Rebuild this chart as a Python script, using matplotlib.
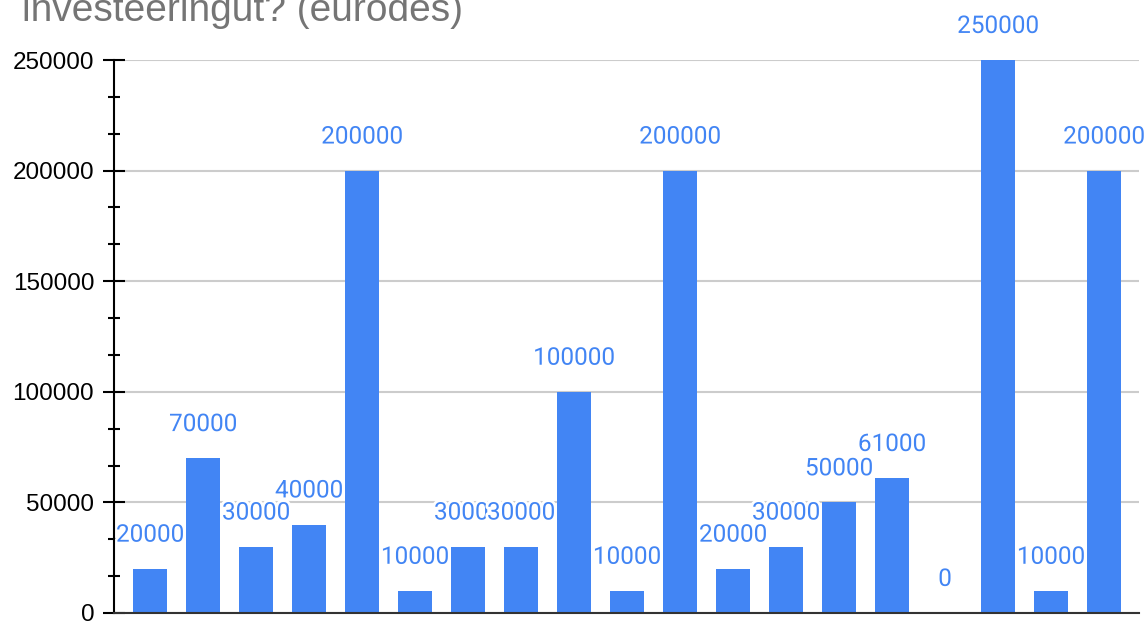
import matplotlib.pyplot as plt
import matplotlib.patheffects as pe
from matplotlib.ticker import MultipleLocator

# andmed
values = [20000, 70000, 30000, 40000, 200000, 10000, 30000, 30000, 100000, 10000,
          200000, 20000, 30000, 50000, 61000, 0, 250000, 10000, 200000]
positions = list(range(len(values)))
title_line = 'investeeringut? (eurodes)'

bar_color = '#4285F4'

fig = plt.figure(figsize=(11.46, 6.22), dpi=100)
ax = fig.add_axes([0.0995, 0.0145, 0.8944, 0.889])

ax.bar(positions, values, width=0.63, color=bar_color, zorder=2)

# väärtuste sildid valge äärisega
for x, v in zip(positions, values):
    ax.annotate(str(v), (x, v), xytext=(0, 19.5), textcoords='offset points',
                ha='center', va='baseline', fontsize=17.5, family='Roboto',
                color=bar_color, zorder=3,
                path_effects=[pe.withStroke(linewidth=4, foreground='white')])

ax.set_xlim(-0.68, len(values) - 1 + 0.66)
ax.set_ylim(0, 250000)
ax.yaxis.set_major_locator(MultipleLocator(50000))
ax.yaxis.set_minor_locator(MultipleLocator(50000 / 3))
ax.set_xticks([])

ax.grid(axis='y', which='major', color='#cccccc', linewidth=1.5, zorder=0)
ax.tick_params(axis='y', which='major', direction='inout', length=16.5, width=1.5,
               pad=6, labelsize=17.5, labelcolor='black')
ax.tick_params(axis='y', which='minor', direction='inout', length=8.5, width=1.5)
for lab in ax.get_yticklabels():
    lab.set_family('Liberation Sans')

for s in ['top', 'right']:
    ax.spines[s].set_visible(False)
ax.spines['left'].set_linewidth(1.5)
ax.spines['left'].set_zorder(4)
ax.spines['bottom'].set_linewidth(1.5)
ax.spines['bottom'].set_color('#333333')
ax.spines['bottom'].set_zorder(4)

fig.text(0.0192, 0.966, title_line, fontsize=28, family='Liberation Sans',
         color='#757575', ha='left', va='baseline')

fig.savefig('out.png', dpi=100)
